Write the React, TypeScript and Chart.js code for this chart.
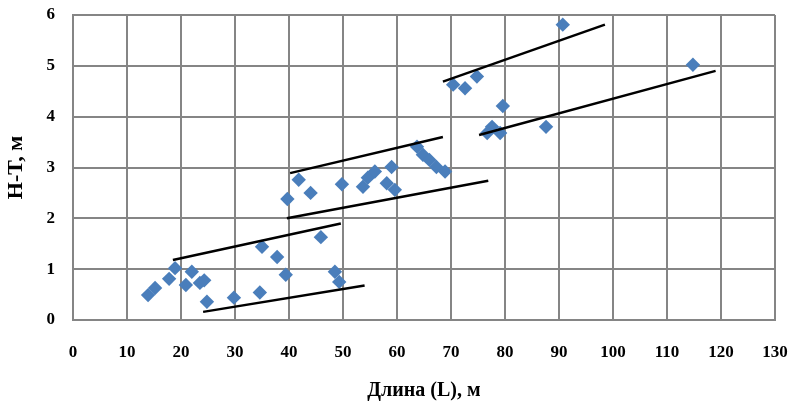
import React, { useEffect, useRef } from "react";
import { Chart, registerables } from "chart.js";

Chart.register(...registerables);

const lengthX = [13.9, 15.2, 17.8, 18.9, 20.9, 22.0, 23.5, 24.3, 24.8, 29.8, 34.6, 35.0, 37.8, 39.4, 39.7, 41.8, 44.0, 45.9, 48.5, 49.3, 49.8, 53.7, 54.6, 55.9, 58.1, 59.0, 59.6, 63.7, 64.8, 66.0, 67.3, 68.9, 70.4, 72.6, 74.8, 76.7, 77.6, 79.1, 79.6, 87.6, 90.7, 114.8];
const heightY = [0.49, 0.63, 0.81, 1.02, 0.69, 0.95, 0.73, 0.78, 0.36, 0.44, 0.54, 1.44, 1.24, 0.89, 2.38, 2.76, 2.50, 1.63, 0.95, 0.75, 2.67, 2.62, 2.80, 2.92, 2.69, 3.01, 2.56, 3.41, 3.25, 3.15, 3.01, 2.92, 4.63, 4.56, 4.79, 3.68, 3.80, 3.68, 4.21, 3.80, 5.81, 5.02];

const trendX1 = [24.1, 18.5, 39.6, 40.2, 68.5, 75.2];
const trendY1 = [0.16, 1.18, 2.00, 2.89, 4.69, 3.64];
const trendX2 = [54.0, 49.6, 76.9, 68.5, 98.5, 119.0];
const trendY2 = [0.68, 1.90, 2.74, 3.60, 5.81, 4.90];

const xTitle = "Длина (L), м";
const yTitle = "H-T, м";

export default function App() {
  const ref = useRef<HTMLCanvasElement>(null);
  useEffect(() => {
    document.body.style.margin = "0";
    const font = "'Liberation Serif', 'Times New Roman', serif";
    const trendSets = trendX1.map((x1, i) => ({
      type: "scatter" as const,
      data: [
        { x: x1, y: trendY1[i] },
        { x: trendX2[i], y: trendY2[i] },
      ],
      showLine: true,
      borderColor: "#000000",
      borderWidth: 2.5,
      pointRadius: 0,
      order: 0,
    }));
    const chart = new Chart(ref.current!, {
      type: "scatter",
      data: {
        datasets: [
          {
            data: lengthX.map((x, i) => ({ x, y: heightY[i] })),
            pointStyle: "rectRot",
            pointRadius: 7.2,
            backgroundColor: "#4A7EBB",
            borderColor: "#4A7EBB",
            borderWidth: 0,
            order: 1,
          },
          ...trendSets,
        ],
      },
      options: {
        animation: false,
        responsive: false,
        layout: { padding: { top: 15, right: 17, left: 0, bottom: 0 } },
        plugins: { legend: { display: false }, tooltip: { enabled: false } },
        scales: {
          x: {
            type: "linear",
            min: 0,
            max: 130,
            ticks: { stepSize: 10, color: "#000", font: { family: font, size: 17, weight: "bold" }, padding: 22 },
            grid: { color: "#858585", lineWidth: 2, drawTicks: false },
            border: { color: "#858585", width: 2 },
            title: { display: true, text: xTitle, color: "#000", font: { family: font, size: 20, weight: "bold" }, padding: { top: 4, bottom: 3 } },
            afterFit: (s: any) => { s.height = 86; s.paddingLeft = 0; s.paddingRight = 0; },
          },
          y: {
            type: "linear",
            min: 0,
            max: 6,
            ticks: { stepSize: 1, color: "#000", font: { family: font, size: 17, weight: "bold" }, padding: 18 },
            grid: { color: "#858585", lineWidth: 2, drawTicks: false },
            border: { color: "#858585", width: 2 },
            title: { display: true, text: yTitle, color: "#000", font: { family: font, size: 22, weight: "bold" }, padding: { top: 3, bottom: 3 } },
            afterFit: (s: any) => { s.width = 73; s.paddingTop = 0; s.paddingBottom = 0; },
          },
        },
      },
    });
    return () => chart.destroy();
  }, []);
  return (
    <div style={{ width: 792, height: 406, background: "#fff" }}>
      <canvas ref={ref} width={792} height={406} style={{ display: "block" }} />
    </div>
  );
}
